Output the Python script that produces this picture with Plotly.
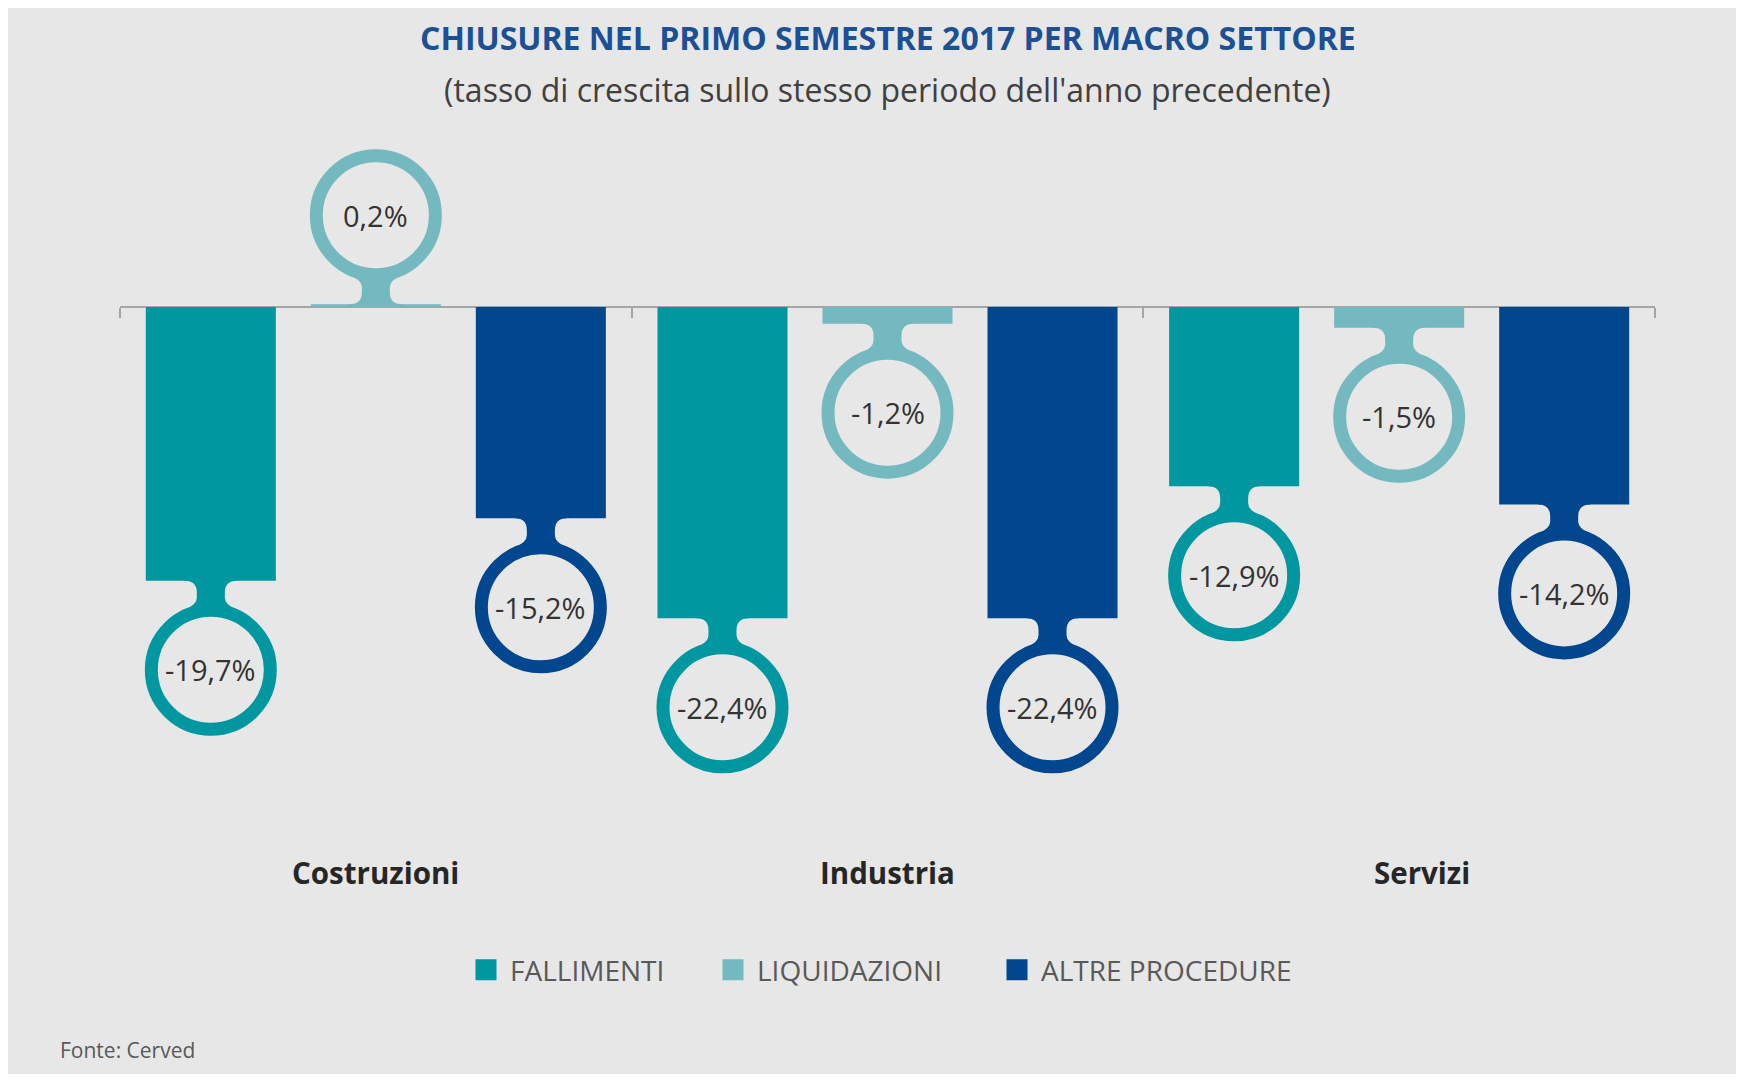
import plotly.graph_objects as go

# ---------------- data ----------------
categories = ["Costruzioni", "Industria", "Servizi"]
series_names = ["FALLIMENTI", "LIQUIDAZIONI", "ALTRE PROCEDURE"]
fallimenti = [-19.7, -22.4, -12.9]
liquidazioni = [0.2, -1.2, -1.5]
altre_procedure = [-15.2, -22.4, -14.2]
title_text = "CHIUSURE NEL PRIMO SEMESTRE 2017 PER MACRO SETTORE"
subtitle_text = "(tasso di crescita sullo stesso periodo dell'anno precedente)"
source_text = "Fonte: Cerved"

# ---------------- style ----------------
series_values = [fallimenti, liquidazioni, altre_procedure]
colors = ["#0097A0", "#74B9C0", "#00478F"]
BG = "#E7E7E7"
FONT = "Open Sans"

W, H = 1736, 1066
ML, MR, MT, MB = 112, 89, 112, 224
plot_w = W - ML - MR
plot_h = H - MT - MB
PX_PER_UNIT = 13.9
y_max = 187 / PX_PER_UNIT
y_min = y_max - plot_h / PX_PER_UNIT
zero_frac = (0 - y_min) / (y_max - y_min)

BARGAP = 0.0325
BARGROUPGAP = 0.212
slot = (1 - BARGAP) / 3

# pin geometry (pixels)
R_OUT = 66
RING = 13
D = 89

cat_label_shift = [0, 0, 23]


def fmt(v):
    return f"{v:.1f}".replace(".", ",") + "%"


def neck_path(s):
    return (f"M -26 {-s*2} L 26 {-s*2} L 26 0 Q 14 0 14 {s*12} L 14 {s*17} "
            f"Q 14 {s*24} 26 {s*29} L 0 {s*42} L -26 {s*29} "
            f"Q -14 {s*24} -14 {s*17} L -14 {s*12} Q -14 0 -26 0 Z")


def y_paper(fig_px):
    return (plot_h - (fig_px - MT)) / plot_h


fig = go.Figure()
for name, vals, col in zip(series_names, series_values, colors):
    fig.add_trace(go.Bar(x=categories, y=vals, name=name, marker_color=col,
                         marker_line_width=0, showlegend=False, hoverinfo="skip"))

# legend-only traces (square symbols)
legend_ids = ["legend", "legend2", "legend3"]
for name, col, lid in zip(series_names, colors, legend_ids):
    fig.add_trace(go.Scatter(x=[None], y=[None], mode="markers", name=name,
                             marker=dict(symbol="square", size=16, color=col,
                                         line=dict(color=col, width=5)),
                             legend=lid, showlegend=True, hoverinfo="skip"))

shapes = []
annotations = []
for k, (vals, col) in enumerate(zip(series_values, colors)):
    for c, v in enumerate(vals):
        xpos = c + (k - 1) * slot
        s = 1 if v >= 0 else -1
        shapes.append(dict(type="path", xref="x", yref="y", xsizemode="pixel", ysizemode="pixel",
                           xanchor=xpos, yanchor=v, path=neck_path(s),
                           fillcolor=col, line=dict(width=0)))
        r = R_OUT - RING / 2
        shapes.append(dict(type="circle", xref="x", yref="y", xsizemode="pixel", ysizemode="pixel",
                           xanchor=xpos, yanchor=v, x0=-r, x1=r, y0=s * D - r, y1=s * D + r,
                           fillcolor=BG, line=dict(color=col, width=RING)))
        annotations.append(dict(x=xpos, y=v, xref="x", yref="y", yshift=s * D, showarrow=False,
                                text=fmt(v), font=dict(family=FONT, size=29, color="#333333")))

for cat, sh in zip(categories, cat_label_shift):
    annotations.append(dict(x=cat, xref="x", y=y_paper(864), yref="paper", yanchor="middle",
                            xshift=sh, showarrow=False, text=f"<b>{cat}</b>",
                            font=dict(family=FONT, size=29.5, color="#262626")))

annotations.append(dict(x=0.5, xref="paper", y=y_paper(30), yref="paper", yanchor="middle",
                        showarrow=False, text=f"<b>{title_text}</b>",
                        font=dict(family=FONT, size=32, color="#1B4F96")))
annotations.append(dict(x=0.5, xref="paper", y=y_paper(81), yref="paper", yanchor="middle",
                        showarrow=False, text=subtitle_text,
                        font=dict(family=FONT, size=32, color="#404040")))
annotations.append(dict(x=(50 - ML) / plot_w, xref="paper", xanchor="left",
                        y=y_paper(1042), yref="paper", yanchor="middle",
                        showarrow=False, text=source_text,
                        font=dict(family=FONT, size=21, color="#595959")))

legend_px = [466, 713, 997]
legend_layout = {}
for lid, px in zip(legend_ids, legend_px):
    legend_layout[lid] = dict(x=(px - 12 - ML) / plot_w, xanchor="left", y=y_paper(962), yanchor="middle",
                              orientation="h", bgcolor="rgba(0,0,0,0)", borderwidth=0, itemwidth=38,
                              font=dict(family=FONT, size=28, color="#595959"))

fig.update_layout(
    width=W, height=H,
    margin=dict(l=ML, r=MR, t=MT, b=MB),
    paper_bgcolor=BG, plot_bgcolor=BG,
    barmode="group", bargap=BARGAP, bargroupgap=BARGROUPGAP,
    shapes=shapes, annotations=annotations,
    xaxis=dict(type="category", range=[-0.5, 2.5], anchor="free", position=zero_frac,
               showline=True, linecolor="#A6A6A6", linewidth=1.5, layer="below traces",
               ticks="outside", tickson="boundaries", ticklen=10, tickcolor="#A6A6A6", tickwidth=1.5,
               showticklabels=False, showgrid=False, zeroline=False, fixedrange=True),
    yaxis=dict(range=[y_min, y_max], visible=False, showgrid=False, zeroline=False, fixedrange=True),
    hovermode=False,
    **legend_layout,
)

fig.write_html("out.html")
